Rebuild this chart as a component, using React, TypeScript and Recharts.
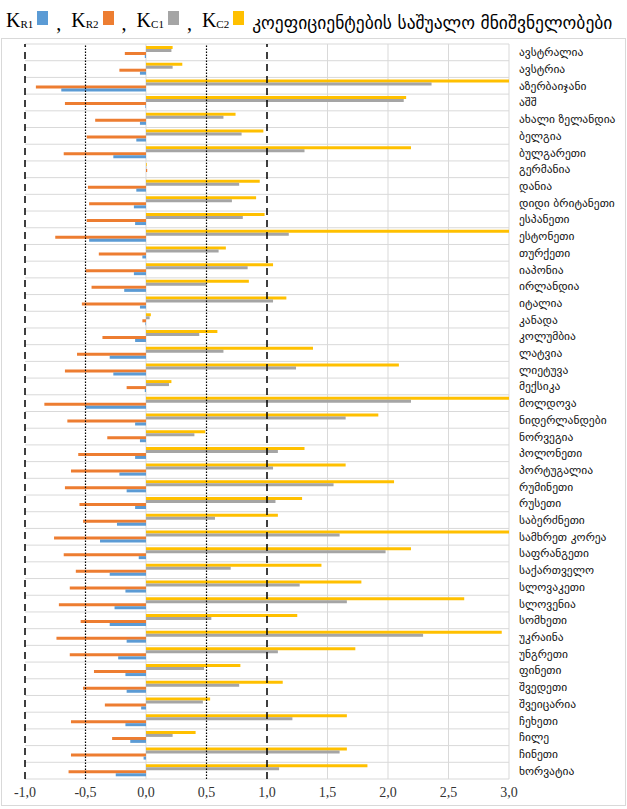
import React from 'react';
import { BarChart, Bar, XAxis, YAxis, CartesianGrid, ReferenceLine } from 'recharts';

const countries = [
  'ავსტრალია', 'ავსტრია', 'აზერბაიჯანი', 'აშშ', 'ახალი ზელანდია', 'ბელგია', 'ბულგარეთი', 'გერმანია',
  'დანია', 'დიდი ბრიტანეთი', 'ესპანეთი', 'ესტონეთი', 'თურქეთი', 'იაპონია', 'ირლანდია', 'იტალია',
  'კანადა', 'კოლუმბია', 'ლატვია', 'ლიეტუვა', 'მექსიკა', 'მოლდოვა', 'ნიდერლანდები', 'ნორვეგია',
  'პოლონეთი', 'პორტუგალია', 'რუმინეთი', 'რუსეთი', 'საბერძნეთი', 'სამხრეთ კორეა', 'საფრანგეთი',
  'საქართველო', 'სლოვაკეთი', 'სლოვენია', 'სომხეთი', 'უკრაინა', 'უნგრეთი', 'ფინეთი', 'შვედეთი',
  'შვეიცარია', 'ჩეხეთი', 'ჩილე', 'ჩინეთი', 'ხორვატია',
];

const kR1 = [
  -0.01, -0.05, -0.7, -0.005, -0.05, -0.08, -0.27, 0, -0.08, -0.1, -0.09, -0.47, -0.03, -0.1, -0.18, -0.05,
  -0.005, -0.09, -0.3, -0.27, -0.01, -0.5, -0.09, -0.05, -0.09, -0.22, -0.16, -0.09, -0.24, -0.38, -0.06,
  -0.3, -0.17, -0.26, -0.3, -0.16, -0.23, -0.17, -0.16, -0.04, -0.17, -0.13, -0.02, -0.25,
];
const kR2 = [
  -0.175, -0.22, -0.91, -0.67, -0.42, -0.49, -0.68, 0.01, -0.48, -0.47, -0.49, -0.75, -0.39, -0.5, -0.45, -0.53,
  -0.03, -0.36, -0.57, -0.67, -0.16, -0.84, -0.65, -0.32, -0.56, -0.62, -0.67, -0.55, -0.52, -0.76, -0.68,
  -0.58, -0.63, -0.72, -0.54, -0.74, -0.63, -0.43, -0.52, -0.34, -0.62, -0.28, -0.62, -0.64,
];
const kC1 = [
  0.21, 0.22, 2.36, 2.13, 0.64, 0.79, 1.31, 0.003, 0.77, 0.71, 0.8, 1.18, 0.6, 0.84, 0.5, 1.05,
  0.03, 0.44, 0.64, 1.24, 0.19, 2.19, 1.65, 0.4, 1.09, 1.05, 1.55, 1.07, 0.57, 1.6, 1.98,
  0.7, 1.27, 1.66, 0.54, 2.29, 1.09, 0.48, 0.77, 0.47, 1.21, 0.22, 1.6, 1.1,
];
const kC2 = [
  0.22, 0.3, 3.3, 2.15, 0.74, 0.97, 2.19, 0.006, 0.94, 0.91, 0.98, 3.3, 0.66, 1.05, 0.85, 1.16,
  0.04, 0.59, 1.38, 2.09, 0.21, 3.3, 1.92, 0.49, 1.31, 1.65, 2.05, 1.29, 1.09, 3.3, 2.19,
  1.45, 1.78, 2.63, 1.25, 2.94, 1.73, 0.78, 1.13, 0.53, 1.66, 0.41, 1.66, 1.83,
];

const xTicks = [-1, -0.5, 0, 0.5, 1, 1.5, 2, 2.5, 3];
const grayGrid = [0, 1.5, 2, 2.5, 3];
const dashedLines = [-1, 1];
const dottedLines = [-0.5, 0.5];

const data = countries.map((country, i) => ({
  country,
  kR1: kR1[i],
  kR2: kR2[i],
  kC1: kC1[i],
  kC2: kC2[i],
}));

const COLORS = { kR1: '#5B9BD5', kR2: '#ED7D31', kC1: '#A5A5A5', kC2: '#FFC000' };
const SERIF = '"Liberation Serif", "DejaVu Serif", serif';
const GEO = '"DejaVu Sans", "Noto Sans", sans-serif';

const CountryTick = (props: any) => {
  const { x, y, payload } = props;
  return (
    <text x={x + 2} y={y} dy={4} textAnchor="start" fontFamily={GEO} fontSize={11.5} fill="#111">
      {payload.value}
    </text>
  );
};

const fmt = (v: number) => v.toFixed(1).replace('.', ',');

const LegendItem = ({ sub, color, comma }: { sub: string; color: string; comma: boolean }) => (
  <span style={{ display: 'inline-flex', alignItems: 'flex-end', marginRight: 4 }}>
    <span style={{ fontFamily: SERIF, fontSize: 20, lineHeight: '22px' }}>
      K<span style={{ fontSize: 11, position: 'relative', top: 1 }}>{sub}</span>
    </span>
    <span
      style={{
        display: 'inline-block',
        width: 11,
        height: 14,
        background: color,
        marginLeft: 4,
        marginBottom: 9,
      }}
    />
    {comma && (
      <span style={{ fontFamily: SERIF, fontSize: 20, lineHeight: '22px', marginLeft: 8, marginRight: 6 }}>,</span>
    )}
  </span>
);

export default function App() {
  const n = countries.length;
  return (
    <div style={{ position: 'fixed', left: 0, top: 0, width: 627, height: 809, background: '#fff' }}>
      <div
        style={{
          position: 'absolute',
          left: 6,
          top: 9,
          display: 'flex',
          alignItems: 'flex-end',
          whiteSpace: 'nowrap',
        }}
      >
        <LegendItem sub="R1" color={COLORS.kR1} comma />
        <LegendItem sub="R2" color={COLORS.kR2} comma />
        <LegendItem sub="C1" color={COLORS.kC1} comma />
        <LegendItem sub="C2" color={COLORS.kC2} comma={false} />
        <span style={{ fontFamily: GEO, fontSize: 17.5, lineHeight: '22px', marginLeft: 4 }}>
          კოეფიციენტების საშუალო მნიშვნელობები
        </span>
      </div>
      <div
        style={{
          position: 'absolute',
          left: 1,
          top: 38,
          width: 623,
          height: 766,
          border: '1px solid #d9d9d9',
        }}
      />
      <div style={{ position: 'absolute', left: 0, top: 0 }}>
        <BarChart
          width={627}
          height={809}
          data={data}
          layout="vertical"
          margin={{ top: 44, right: 0, bottom: 8, left: 25 }}
          barGap={0}
          barCategoryGap="12%"
        >
          <CartesianGrid
            stroke="#d9d9d9"
            horizontalCoordinatesGenerator={(p: any) => {
              const off = p.offset || { top: 44, height: 735 };
              return Array.from({ length: n + 1 }, (_, i) => off.top + (i * off.height) / n);
            }}
            verticalValues={grayGrid}
          />
          <XAxis
            type="number"
            domain={[-1, 3]}
            ticks={xTicks}
            allowDataOverflow
            axisLine={false}
            tickLine={false}
            tickFormatter={fmt}
            height={22}
            tick={{ fontFamily: SERIF, fontSize: 14, fill: '#333' }}
          />
          <YAxis
            type="category"
            dataKey="country"
            orientation="right"
            width={118}
            axisLine={false}
            tickLine={false}
            interval={0}
            tick={<CountryTick />}
          />
          <Bar dataKey="kC2" fill={COLORS.kC2} isAnimationActive={false} />
          <Bar dataKey="kC1" fill={COLORS.kC1} isAnimationActive={false} />
          <Bar dataKey="kR2" fill={COLORS.kR2} isAnimationActive={false} />
          <Bar dataKey="kR1" fill={COLORS.kR1} isAnimationActive={false} />
          {dashedLines.map((v) => (
            <ReferenceLine key={`d${v}`} x={v} stroke="#000" strokeWidth={1.5} strokeDasharray="7 5" />
          ))}
          {dottedLines.map((v) => (
            <ReferenceLine key={`o${v}`} x={v} stroke="#000" strokeWidth={1.2} strokeDasharray="1.5 1.5" />
          ))}
        </BarChart>
      </div>
    </div>
  );
}
